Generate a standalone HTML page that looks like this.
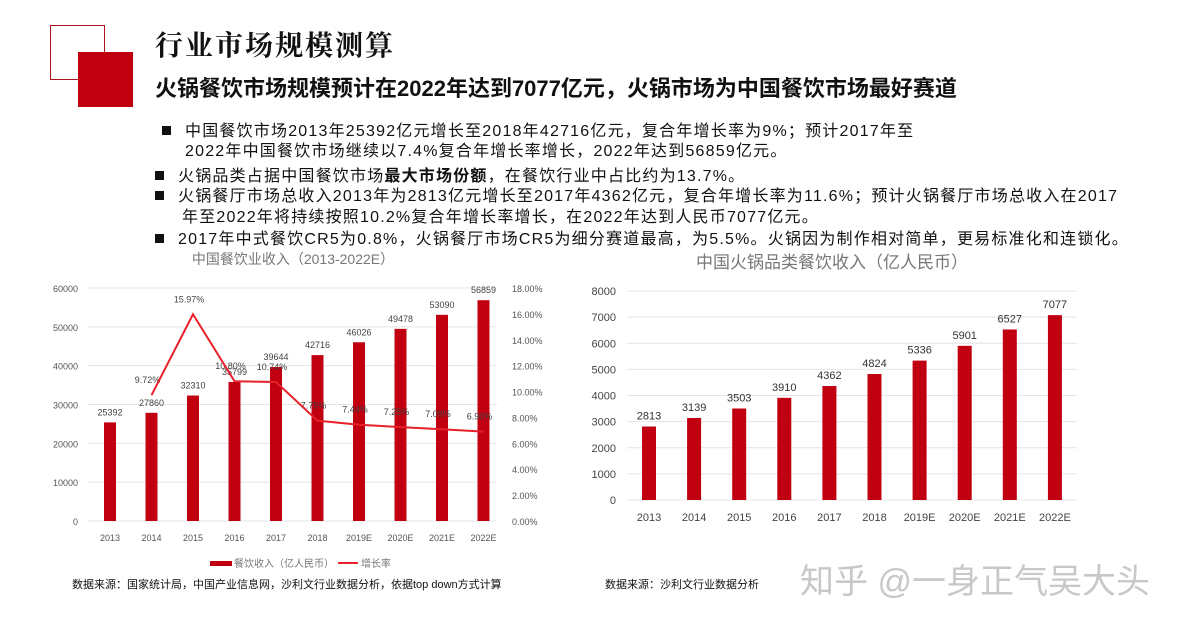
<!DOCTYPE html>
<html><head><meta charset="utf-8"><style>
body{margin:0;width:1188px;height:621px;background:#fff;position:relative;overflow:hidden;font-family:"Liberation Sans","Noto Sans CJK SC",sans-serif;}
.abs{position:absolute;white-space:nowrap;}
.bl{font-size:16px;color:#111;letter-spacing:1.2px;}
.sq{display:inline-block;width:9px;height:9px;background:#111;margin-right:14px;vertical-align:1px;}
</style></head><body>
<div class="abs" style="left:50px;top:25px;width:53px;height:53px;border:1.5px solid #b01020;"></div>
<div class="abs" style="left:78px;top:52px;width:55px;height:55px;background:#c00010;"></div>
<div class="abs" style="left:155px;top:24px;font-size:28px;letter-spacing:2px;font-weight:bold;color:#111;font-family:'Noto Serif CJK SC','Noto Sans CJK SC',serif;">行业市场规模测算</div>
<div class="abs" style="left:155px;top:71px;font-size:22px;font-weight:bold;color:#111;">火锅餐饮市场规模预计在2022年达到7077亿元，火锅市场为中国餐饮市场最好赛道</div>
<div class="abs bl" style="left:162px;top:117px;"><span class="sq"></span>中国餐饮市场2013年25392亿元增长至2018年42716亿元，复合年增长率为9%；预计2017年至</div>
<div class="abs bl" style="left:185px;top:137px;">2022年中国餐饮市场继续以7.4%复合年增长率增长，2022年达到56859亿元。</div>
<div class="abs bl" style="left:155px;top:162px;"><span class="sq"></span>火锅品类占据中国餐饮市场<b>最大市场份额</b>，在餐饮行业中占比约为13.7%。</div>
<div class="abs bl" style="left:155px;top:182px;"><span class="sq"></span>火锅餐厅市场总收入2013年为2813亿元增长至2017年4362亿元，复合年增长率为11.6%；预计火锅餐厅市场总收入在2017</div>
<div class="abs bl" style="left:182px;top:203px;">年至2022年将持续按照10.2%复合年增长率增长，在2022年达到人民币7077亿元。</div>
<div class="abs bl" style="left:155px;top:225px;letter-spacing:1.2px;"><span class="sq"></span>2017年中式餐饮CR5为0.8%，火锅餐厅市场CR5为细分赛道最高，为5.5%。火锅因为制作相对简单，更易标准化和连锁化。</div>
<svg id="c" class="abs" style="left:0;top:0" width="1188" height="621"></svg>
<div class="abs" style="left:72px;top:576px;font-size:11px;color:#111;">数据来源：国家统计局，中国产业信息网，沙利文行业数据分析，依据top down方式计算</div>
<div class="abs" style="left:605px;top:576px;font-size:11px;color:#111;">数据来源：沙利文行业数据分析</div>
<div class="abs" style="left:800px;top:554px;font-size:34px;color:#c8c8c8;">知乎 @一身正气吴大头</div>
<script>
const catsL=["2013","2014","2015","2016","2017","2018","2019E","2020E","2021E","2022E"];
const revenue=[25392,27860,32310,35799,39644,42716,46026,49478,53090,56859];
const growth=[null,9.72,15.97,10.80,10.74,7.75,7.44,7.25,7.09,6.90];
const leftTicks=[0,10000,20000,30000,40000,50000,60000];
const rightTicks=[0,2,4,6,8,10,12,14,16,18];
const catsR=["2013","2014","2015","2016","2017","2018","2019E","2020E","2021E","2022E"];
const hotpot=[2813,3139,3503,3910,4362,4824,5336,5901,6527,7077];
const hotTicks=[0,1000,2000,3000,4000,5000,6000,7000,8000];
const svg=document.getElementById('c');const NS='http://www.w3.org/2000/svg';
function mk(t,a,txt){const e=document.createElementNS(NS,t);for(const k in a)e.setAttribute(k,a[k]);if(txt!=null)e.textContent=txt;svg.appendChild(e);return e;}
const yL=v=>521-v/60000*233, yP=v=>521-v/18*233, xL=i=>110+i*41.5;
leftTicks.forEach(t=>{let g=mk('line',{x1:88,x2:497,y1:yL(t),y2:yL(t),stroke:'#e4e4e4'});
let l=mk('text',{x:78,y:yL(t)+4,'font-size':9,'text-anchor':'end',fill:'#555'},t);});
rightTicks.forEach(t=>{let l=mk('text',{x:512,y:yP(t)+4,'font-size':9,fill:'#555'},t.toFixed(2)+'%');});
catsL.forEach((c,i)=>{let b=mk('rect',{x:xL(i)-6,y:yL(revenue[i]),width:12,height:521-yL(revenue[i]),fill:'#c00010'});
let v=mk('text',{x:xL(i),y:yL(revenue[i])-7,'font-size':9,'text-anchor':'middle',fill:'#444'},revenue[i]);
let x=mk('text',{x:xL(i),y:541,'font-size':9,'text-anchor':'middle',fill:'#555'},c);});
let pts=[];growth.forEach((g,i)=>{if(g!=null){pts.push(xL(i)+','+yP(g));let t=mk('text',{x:xL(i)-4,y:yP(g)-12,'font-size':9,'text-anchor':'middle',fill:'#444'},g.toFixed(2)+'%');}});
let pl=mk('polyline',{points:pts.join(' '),fill:'none',stroke:'#e8202a','stroke-width':2});
let t1=mk('text',{x:293,y:264,'font-size':14,'text-anchor':'middle',fill:'#777'},'中国餐饮业收入（2013-2022E）');
let lg1=mk('rect',{x:210,y:561,width:22,height:5,fill:'#c00010'});
let lt1=mk('text',{x:234,y:567,'font-size':10,fill:'#777'},'餐饮收入（亿人民币）');
let lg2=mk('line',{x1:338,x2:358,y1:563,y2:563,stroke:'#e8202a','stroke-width':2});
let lt2=mk('text',{x:361,y:567,'font-size':10,fill:'#777'},'增长率');
const yR=v=>500-v/8000*209, xR=i=>649+i*45.1;
hotTicks.forEach(t=>{let g=mk('line',{x1:627,x2:1077,y1:yR(t),y2:yR(t),stroke:'#e4e4e4'});
let l=mk('text',{x:616,y:yR(t)+4,'font-size':11,'text-anchor':'end',fill:'#444'},t);});
catsR.forEach((c,i)=>{let b=mk('rect',{x:xR(i)-7,y:yR(hotpot[i]),width:14,height:500-yR(hotpot[i]),fill:'#c00010'});
let v=mk('text',{x:xR(i),y:yR(hotpot[i])-7,'font-size':11,'text-anchor':'middle',fill:'#333'},hotpot[i]);
let x=mk('text',{x:xR(i),y:521,'font-size':11,'text-anchor':'middle',fill:'#444'},c);});
let t2=mk('text',{x:832,y:268,'font-size':17,'text-anchor':'middle',fill:'#777'},'中国火锅品类餐饮收入（亿人民币）');
</script>
</body></html>
